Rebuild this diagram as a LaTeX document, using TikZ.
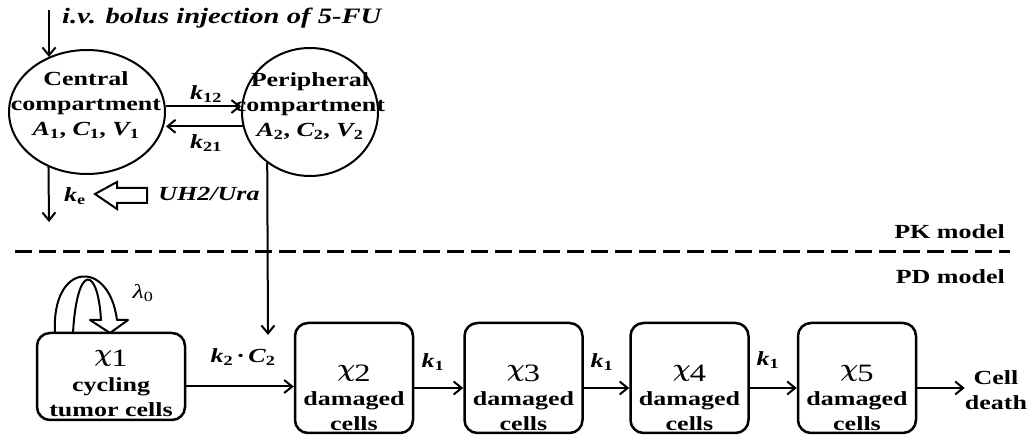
\documentclass[tikz,border=0pt]{standalone}
\usepackage{fontspec}
\setmainfont{Liberation Serif}[FakeStretch=1.3]
\usetikzlibrary{arrows.meta,shapes.geometric}
\newcommand\ksub[1]{{\bfseries\itshape k}\textsubscript{\bfseries\upshape #1}}
\newcommand\vsub[2]{{\bfseries\itshape #1}\textsubscript{\bfseries\upshape #2}}
\newcommand\chisym[1]{{\fontsize{36}{36}\selectfont\boldmath$\chi$}\kern-1pt\raisebox{-5pt}{\fontsize{25}{25}\selectfont\mdseries #1}}
\begin{document}
\begin{tikzpicture}[x=1pt,y=-1pt,
  lab/.style={font=\fontsize{20}{25}\selectfont\bfseries, inner sep=0pt, align=center},
  ital/.style={font=\fontsize{20}{25}\selectfont\bfseries\itshape, inner sep=0pt},
  comp/.style={draw, ellipse, line width=2pt, inner sep=0pt},
  cbox/.style={draw, line width=2.5pt, rounded corners=13pt, inner sep=0pt,
    minimum width=118pt, minimum height=110pt},
  arr/.style={line width=2pt, -{Straight Barb[length=8pt,width=13pt,line width=2pt]}},
  sep/.style={line width=3pt, dash pattern=on 17pt off 7pt},
]
\useasboundingbox (0,0) rectangle (1029,435);

% PK compartments
\node[comp, minimum width=156pt, minimum height=124pt] (c) at (87,112) {};
\node[comp, minimum width=136pt, minimum height=128pt] (p) at (310,112) {};
\node[lab] (ct) at (86,105) {Central\\compartment\\\vsub{A}{1}, \vsub{C}{1}, \vsub{V}{1}};
\node[lab] (pt) at (310,106) {Peripheral\\compartment\\\vsub{A}{2}, \vsub{C}{2}, \vsub{V}{2}};

% injection
\coordinate (inj) at (49,10);
\node[ital, font=\fontsize{22}{26}\selectfont\bfseries\itshape, anchor=west] (injt) at (62,18) {i.v. bolus injection of 5-FU};
\draw[arr] (inj) -- (inj |- c.125);

% exchange
\draw[arr] (c.4) -- (c.4 -| p.west);
\draw[arr] (p.192) -- (p.192 -| c.east);
\node[lab] (k12) at (206,94) {\ksub{12}};
\node[lab] (k21) at (206,143) {\ksub{21}};

% elimination
\coordinate (ke) at (49,222);
\draw[arr] (c.235) -- (ke);
\node[lab] (kel) at (75,196) {\ksub{e}};
\draw[line width=2pt, line join=miter] (95,194) -- (117,182) -- (117,188) -- (147,188)
  -- (147,203) -- (117,203) -- (117,209) -- cycle;
\node[ital] (uh) at (209,194) {UH2/Ura};

% separator
\coordinate (dl) at (15,252);
\coordinate (dr) at (1010,252);
\draw[sep] (dl) -- (dr);
\node[lab, anchor=east] (pk) at (1005,232) {PK model};
\node[lab, anchor=east] (pd) at (1005,277) {PD model};

% drug effect
\coordinate (drug) at (268,335);
\draw[arr] (p.230) -- (drug);
\node[lab] (k2c2) at (243,357) {\ksub{2}\,·\,\vsub{C}{2}};

% PD boxes
\node[cbox, minimum width=148pt, minimum height=87pt] (x1) at (111,376.5) {};
\node[cbox] (x2) at (354,378) {};
\node[cbox] (x3) at (523.5,378) {};
\node[cbox] (x4) at (689.5,378) {};
\node[cbox] (x5) at (857,378) {};

\node[inner sep=0pt] (x1c) at (111,358) {\chisym{1}};
\node[lab] (x1t) at (111,397) {cycling\\tumor cells};
\foreach \i/\xx in {2/354,3/523.5,4/689.5,5/857}{
  \node[inner sep=0pt] (x\i c) at (\xx,373) {\chisym{\i}};
  \node[lab] (x\i t) at (\xx,411) {damaged\\cells};
}

% self loop
\draw[line width=2pt, line join=round] (55,333) .. controls (51,262) and (109,258) .. (117,320)
  -- (128,320) -- (110,333) -- (90,320) -- (101,320)
  .. controls (98,266) and (77,262) .. (73,333);
\node[font=\fontsize{20}{24}\selectfont, inner sep=0pt] (lam) at (143,293) {\textit{λ}\textsubscript{0}};

% PD arrows
\draw[arr] ([yshift=-10pt]x1.east) -- ([yshift=-10pt]x1.east -| x2.west);
\draw[arr] ([yshift=-10pt]x2.east) -- ([yshift=-10pt]x3.west);
\draw[arr] ([yshift=-10pt]x3.east) -- ([yshift=-10pt]x4.west);
\draw[arr] ([yshift=-10pt]x4.east) -- ([yshift=-10pt]x5.west);
\node[lab] (k1a) at (433,362) {\ksub{1}};
\node[lab] (k1b) at (602,362) {\ksub{1}};
\node[lab] (k1c) at (768,360) {\ksub{1}};

\node[lab] (cd) at (996,390) {Cell\\death};
\draw[arr] ([yshift=-10pt]x5.east) -- ([yshift=-10pt]x5.east -| cd.west);
\end{tikzpicture}
\end{document}
